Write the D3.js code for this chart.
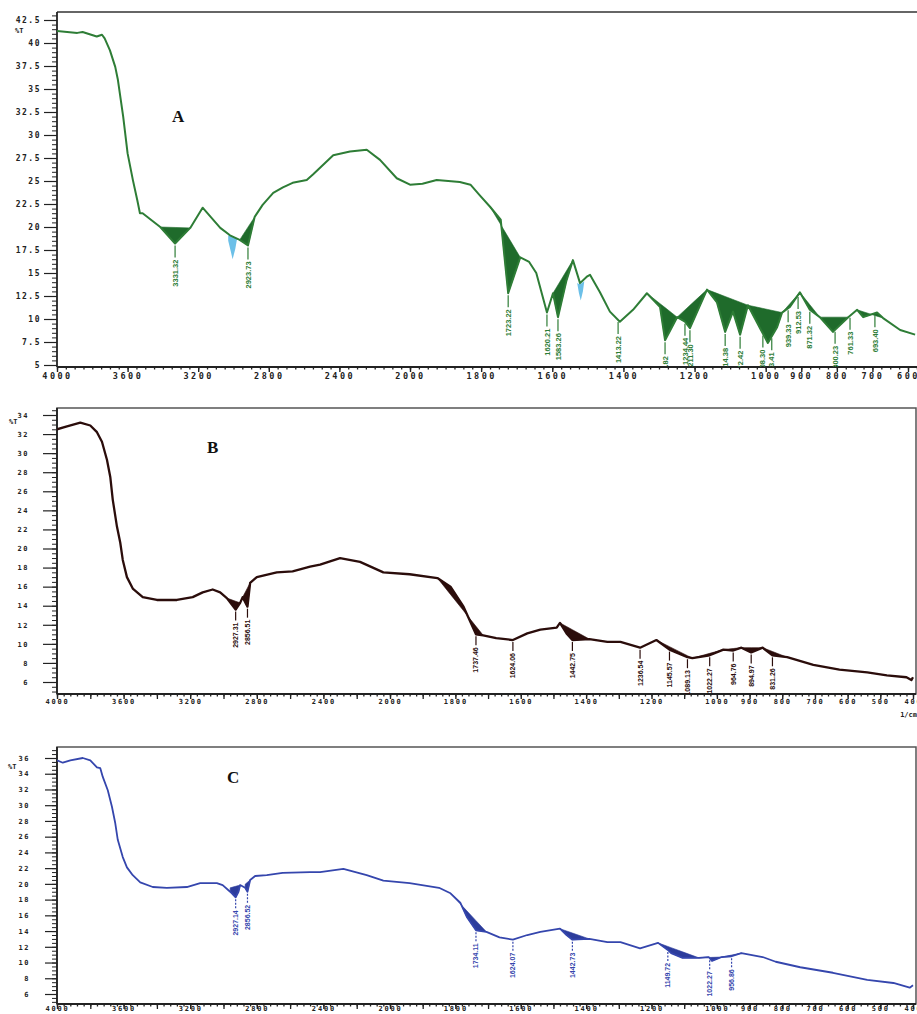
<!DOCTYPE html>
<html>
<head>
<meta charset="utf-8">
<script src="https://cdn.jsdelivr.net/npm/d3@7"></script>
<style>
  body { margin: 0; background: #fff; }
  svg { display: block; }
</style>
</head>
<body>
<svg id="ftir" width="917" height="1014"></svg>
<script>
// ---- spectrum A (wavenumber cm-1, %T) ----
var wnA = [4000,3885,3855,3775,3745,3730,3700,3670,3655,3625,3600,3570,3545,3530,3515,3415,3331,3245,3175,3075,
  3020,2965,2918,2880,2835,2775,2720,2665,2585,2550,2435,2340,2245,2170,2075,2000,1965,1925,1860,1830,
  1805,1775,1745,1724,1690,1665,1645,1615,1598,1584,1560,1542,1522,1503,1494,1466,1438,1410,1373,1334,
  1297,1283,1249,1227,1213,1165,1137,1114,1092,1072,1050,1016,994,968,954,932,904,876,848,811,
  768,743,726,687,670,622,580];
var tA = [41.3,41.1,41.2,40.7,40.9,40.5,39.2,37.4,36.0,32.0,28.0,25.1,22.9,21.5,21.5,20.0,18.2,19.9,22.1,19.9,
  19.1,18.6,18.0,21.1,22.4,23.7,24.3,24.8,25.1,25.7,27.8,28.2,28.4,27.3,25.3,24.6,24.7,25.1,24.9,24.6,
  23.5,22.2,20.8,12.8,16.7,16.2,15.0,10.7,12.8,10.2,14.2,16.4,13.9,14.6,14.8,12.9,10.8,9.7,11.0,12.8,
  11.3,7.7,10.2,9.7,9.0,13.2,11.8,8.6,10.8,8.3,11.5,9.0,7.4,9.1,10.7,11.3,12.9,11.0,10.2,8.6,
  10.2,11.0,10.2,10.7,10.1,8.8,8.3];
var fillsA = [[3415,3245],[2965,2880],[1775,1690],[1598,1542],[1334,1249],[1249,1165],[1165,1050],
  [1050,954],[954,904],[904,848],[848,768],[743,670]];
var peaksA = [[3331,"3331.32"],[2918,"2923.73"],[1724,"1723.22"],[1615,"1620.21"],[1584,"1583.26"],
  [1415,"1413.22"],[1283,"1276.82"],[1227,"1234.44"],[1213,"1211.30"],[1114,"1114.38"],[1072,"1072.42"],
  [1008,"1008.30"],[983,"983.41"],[937,"939.33"],[909,"912.53"],[876,"871.32"],[805,"800.23"],
  [763,"761.33"],[693,"693.40"]];
var blue1W = [3030,3015,3005,2990,2980], blue1Top = [19.1,19.0,18.9,18.8,18.7], blue1Bot = [18.5,17.3,16.5,17.6,18.7];
var blue2W = [1530,1525,1520,1514,1510], blue2Top = [13.9,13.8,13.8,14.0,14.1], blue2Bot = [13.9,12.8,12.0,13.0,14.1];
var xTicksA = [4000,3600,3200,2800,2400,2000,1800,1600,1400,1200,1000,900,800,700,600];
var yTicksA = [42.5,40,37.5,35,32.5,30,27.5,25,22.5,20,17.5,15,12.5,10,7.5,5];

// ---- spectrum B ----
var wnB = [4000,3940,3860,3800,3760,3730,3700,3680,3665,3640,3620,3605,3580,3545,3485,3400,3280,3185,3125,3065,
  3020,2980,2927,2900,2885,2856,2840,2800,2680,2585,2480,2420,2300,2180,2040,1940,1855,1815,1775,1737,
  1715,1675,1624,1580,1540,1490,1480,1460,1442,1390,1335,1295,1235,1185,1145,1090,1075,1022,980,950,
  925,895,860,830,785,705,625,540,480,420,405,400];
var tB = [32.5,32.8,33.2,32.9,32.2,31.2,29.3,27.5,25.1,22.3,20.6,18.8,17.0,15.8,14.9,14.6,14.6,14.9,15.4,15.7,
  15.4,14.8,13.6,14.3,14.9,13.9,16.4,17.0,17.5,17.6,18.1,18.3,19.0,18.6,17.5,17.3,16.9,16.0,13.9,11.0,
  10.9,10.6,10.4,11.1,11.5,11.7,12.2,11.1,10.4,10.5,10.2,10.2,9.6,10.4,9.4,8.6,8.5,8.8,9.4,9.3,
  9.6,9.1,9.6,8.8,8.6,7.8,7.3,7.0,6.7,6.5,6.2,6.5];
var fillsB = [[2980,2900],[2885,2840],[1855,1715],[1480,1390],[1185,1075],[1075,980],[980,925],[925,860],[860,785]];
var peaksB = [[2927,"2927.31"],[2856,"2856.51"],[1737,"1737.46"],[1624,"1624.06"],[1442,"1442.75"],
  [1235,"1236.54"],[1145,"1145.57"],[1090,"1089.13"],[1022,"1022.27"],[950,"964.76"],[895,"894.97"],[830,"831.26"]];

// ---- spectrum C ----
var wnC = [4000,3965,3920,3845,3800,3760,3740,3725,3695,3670,3650,3635,3605,3580,3545,3500,3425,3340,3220,3140,
  3040,3005,2960,2927,2910,2900,2870,2856,2840,2810,2740,2645,2480,2420,2280,2140,2040,1940,1850,1815,
  1785,1765,1737,1705,1665,1624,1580,1540,1480,1460,1442,1390,1335,1295,1235,1180,1150,1140,1105,1055,
  1025,1015,985,955,925,860,820,745,645,540,460,410,400];
var tC = [35.7,35.4,35.7,36.0,35.7,34.8,34.7,33.6,31.9,29.8,27.7,25.6,23.4,22.1,21.1,20.2,19.6,19.5,19.6,20.1,
  20.1,19.85,19.0,18.3,19.0,19.85,19.5,19.0,20.5,21.0,21.1,21.4,21.5,21.5,21.9,21.1,20.4,20.1,19.5,18.8,
  17.6,15.8,14.1,13.9,13.2,12.9,13.5,13.9,14.3,13.5,12.9,13.0,12.6,12.6,11.8,12.5,11.6,11.2,10.6,10.6,
  10.7,10.2,10.7,10.8,11.2,10.7,10.1,9.4,8.7,7.8,7.4,6.8,7.1];
var fillsC = [[2980,2900],[2885,2840],[1815,1705],[1480,1390],[1180,1055],[1055,985],[985,925]];
var peaksC = [[2927,"2927.14"],[2856,"2856.52"],[1737,"1734.11"],[1624,"1624.07"],[1442,"1442.73"],
  [1150,"1149.72"],[1022,"1022.27"],[955,"956.86"]];

var xTicksBC = [4000,3600,3200,2800,2400,2000,1800,1600,1400,1200,1000,900,800,700,600,500,400];
var xMidBC = [3800,3400,3000,2600,2200,1900,1700,1500,1300,1100];
var yTicksB = [34,32,30,28,26,24,22,20,18,16,14,12,10,8,6];
var yTicksC = [36,34,32,30,28,26,24,22,20,18,16,14,12,10,8,6];

var svg = d3.select("#ftir");
var tickFont = "'DejaVu Sans Mono', monospace";

function drawPanel(p) {
  var x = d3.scaleLinear().domain(p.xDomain).range(p.xRange);
  var y = d3.scaleLinear().domain(p.yDomain).range(p.yRange);
  var pts = p.wn.map(function(w, i) { return [w, p.t[i]]; });
  var valAt = d3.scaleLinear().domain(p.wn).range(p.t);

  var g = svg.append("g");

  g.append("clipPath").attr("id", "clip" + p.id)
    .append("rect").attr("x", p.left).attr("y", p.top)
    .attr("width", p.right - p.left).attr("height", p.bottom - p.top);

  // frame
  if (p.boxed) {
    g.append("rect").attr("x", p.left).attr("y", p.top)
      .attr("width", p.right - p.left).attr("height", p.bottom - p.top)
      .attr("fill", "none").attr("stroke", "#555").attr("stroke-width", 1.5);
  } else {
    g.append("line").attr("x1", p.left).attr("x2", p.right).attr("y1", p.top).attr("y2", p.top)
      .attr("stroke", "#666").attr("stroke-width", 2);
  }

  // y axis
  var yMinor = d3.range(p.yDomain[0] - 1, p.yDomain[1] + 1.01, p.yMinorStep);
  g.append("g").attr("transform", "translate(" + p.left + ",0)")
    .call(d3.axisLeft(y).tickValues(yMinor.filter(function(v) { return y(v) > p.top && y(v) <= p.bottom; }))
      .tickSize(5).tickSizeOuter(0).tickFormat(""))
    .call(function(a) { a.select(".domain").remove(); a.selectAll("line").attr("stroke", "#222"); });
  var yAx = g.append("g").attr("transform", "translate(" + p.left + ",0)")
    .call(d3.axisLeft(y).tickValues(p.yTicks).tickSize(p.yTickLen).tickSizeOuter(0).tickPadding(p.yPad)
      .tickFormat(function(d) { return String(d); }));
  yAx.select(".domain").remove();
  yAx.selectAll("line").attr("stroke", "#222").attr("stroke-width", 1.2);
  yAx.selectAll("text").attr("font-family", tickFont).attr("font-weight", "bold")
    .attr("font-size", p.yFont).attr("letter-spacing", p.yLs).attr("fill", "#222");
  g.append("line").attr("x1", p.left).attr("x2", p.left).attr("y1", p.top).attr("y2", p.bottom)
    .attr("stroke", "#222").attr("stroke-width", 1.8);

  // x axis
  var xMinor = d3.range(p.xDomain[0], p.xDomain[1] - 1, -p.xMinorHi)
    .concat(d3.range(p.xDomain[1], p.xDomain[2] - 30, -p.xMinorLo));
  g.append("g").attr("transform", "translate(0," + p.bottom + ")")
    .call(d3.axisBottom(x).tickValues(xMinor).tickSize(2.5).tickSizeOuter(0).tickFormat(""))
    .call(function(a) { a.select(".domain").remove(); a.selectAll("line").attr("stroke", "#222").attr("stroke-width", 1.3); });
  if (p.xMid) {
    g.append("g").attr("transform", "translate(0," + p.bottom + ")")
      .call(d3.axisBottom(x).tickValues(p.xMid).tickSize(5).tickSizeOuter(0).tickFormat(""))
      .call(function(a) { a.select(".domain").remove(); a.selectAll("line").attr("stroke", "#222").attr("stroke-width", 1.3); });
  }
  var xAx = g.append("g").attr("transform", "translate(0," + p.bottom + ")")
    .call(d3.axisBottom(x).tickValues(p.xTicks).tickSize(5).tickSizeOuter(0)
      .tickFormat(function(d) { return String(d); }));
  xAx.select(".domain").remove();
  xAx.selectAll("line").attr("stroke", "#222").attr("stroke-width", 1.4);
  xAx.selectAll("text").attr("y", p.xLabelY).attr("font-family", tickFont).attr("font-weight", "bold")
    .attr("font-size", p.xFont).attr("letter-spacing", p.xLs).attr("fill", "#222");
  g.append("line").attr("x1", p.left).attr("x2", p.right).attr("y1", p.bottom).attr("y2", p.bottom)
    .attr("stroke", "#222").attr("stroke-width", 1.8);

  var plot = g.append("g").attr("clip-path", "url(#clip" + p.id + ")");

  // shaded peak areas between a straight baseline and the curve
  p.fills.forEach(function(f) {
    var seg = pts.filter(function(d) { return d[0] <= f[0] && d[0] >= f[1]; });
    var chord = d3.scaleLinear().domain(f).range([valAt(f[0]), valAt(f[1])]);
    plot.append("path").datum(seg)
      .attr("d", d3.area().x(function(d) { return x(d[0]); })
        .y0(function(d) { return y(chord(d[0])); })
        .y1(function(d) { return y(d[1]); }))
      .attr("fill", p.fillColor).attr("stroke", p.fillColor).attr("stroke-width", 0.6);
  });

  (p.bands || []).forEach(function(b) {
    var rows = b.w.map(function(w, i) { return [w, b.top[i], b.bot[i]]; });
    plot.append("path").datum(rows)
      .attr("d", d3.area().x(function(d) { return x(d[0]); })
        .y0(function(d) { return y(d[1]); }).y1(function(d) { return y(d[2]); }))
      .attr("fill", b.color);
  });

  plot.append("path").datum(pts)
    .attr("d", d3.line().x(function(d) { return x(d[0]); }).y(function(d) { return y(d[1]); }))
    .attr("fill", "none").attr("stroke", p.color).attr("stroke-width", p.lineWidth)
    .attr("stroke-linejoin", "round");

  // peak labels
  var lab = plot.selectAll(".pk").data(p.peaks).enter().append("g")
    .attr("transform", function(d) { return "translate(" + x(d[0]) + "," + (y(valAt(d[0])) + 2) + ")"; });
  lab.append("line").attr("y1", 0).attr("y2", p.lineLen)
    .attr("stroke", p.color).attr("stroke-width", 1.2)
    .attr("stroke-dasharray", p.dashed ? "2,1.5" : null);
  lab.append("text")
    .attr("transform", "translate(0," + (p.lineLen + 2) + ") rotate(-90)")
    .attr("text-anchor", "end").attr("dy", "0.35em")
    .attr("font-family", "'Liberation Sans', sans-serif")
    .attr("font-weight", "bold").attr("font-size", p.peakFont).attr("fill", p.color)
    .text(function(d) { return d[1]; });

  // panel letter and %T
  svg.append("text").attr("x", p.letterX).attr("y", p.letterY)
    .attr("font-family", "'Liberation Serif', 'Times New Roman', serif").attr("font-weight", "bold")
    .attr("font-size", p.letterSize).attr("fill", "#111").text(p.letter);
  svg.append("text").attr("x", p.pctX).attr("y", p.pctY)
    .attr("font-family", tickFont).attr("font-weight", "bold").attr("font-size", 7)
    .attr("fill", "#222").text("%T");
}

drawPanel({
  id: "A", wn: wnA, t: tA, fills: fillsA, peaks: peaksA,
  bands: [{ w: blue1W, top: blue1Top, bot: blue1Bot, color: "#6cc0e8" },
          { w: blue2W, top: blue2Top, bot: blue2Bot, color: "#6cc0e8" }],
  xDomain: [4000, 2000, 600], xRange: [57, 410, 908],
  yDomain: [5, 42.5], yRange: [365, 20],
  left: 57, right: 917, top: 12, bottom: 367, boxed: false,
  xTicks: xTicksA, xMinorHi: 50, xMinorLo: 25, xLabelY: 6, xFont: 8.5, xLs: 2.5,
  yTicks: yTicksA, yMinorStep: 0.5, yTickLen: 13, yPad: 3, yFont: 8, yLs: 1.5,
  color: "#2e7d36", fillColor: "#1f6b2b", lineWidth: 2, lineLen: 12, peakFont: 7.5, dashed: false,
  letter: "A", letterX: 172, letterY: 122, letterSize: 17, pctX: 15, pctY: 33
});

drawPanel({
  id: "B", wn: wnB, t: tB, fills: fillsB, peaks: peaksB,
  xDomain: [4000, 2000, 400], xRange: [57, 390, 913],
  yDomain: [6, 34], yRange: [682, 415],
  left: 57, right: 916, top: 408, bottom: 694, boxed: true,
  xTicks: xTicksBC, xMid: xMidBC, xMinorHi: 40, xMinorLo: 20, xLabelY: 5, xFont: 7, xLs: 1.8,
  yTicks: yTicksB, yMinorStep: 0.5, yTickLen: 14, yPad: 14, yFont: 7, yLs: 1.5,
  color: "#2b0d0b", fillColor: "#2b0d0b", lineWidth: 2.3, lineLen: 9, peakFont: 7, dashed: false,
  letter: "B", letterX: 207, letterY: 453, letterSize: 17, pctX: 9, pctY: 424
});

drawPanel({
  id: "C", wn: wnC, t: tC, fills: fillsC, peaks: peaksC,
  xDomain: [4000, 2000, 400], xRange: [57, 390, 913],
  yDomain: [6, 36], yRange: [994, 758],
  left: 57, right: 916, top: 747, bottom: 1004, boxed: true,
  xTicks: xTicksBC, xMid: xMidBC, xMinorHi: 40, xMinorLo: 20, xLabelY: 2.5, xFont: 7, xLs: 1.8,
  yTicks: yTicksC, yMinorStep: 0.5, yTickLen: 12, yPad: 15, yFont: 7, yLs: 1.5,
  color: "#3546ad", fillColor: "#2c3c9c", lineWidth: 1.8, lineLen: 9, peakFont: 7, dashed: true,
  letter: "C", letterX: 227, letterY: 783, letterSize: 17, pctX: 8, pctY: 769
});

// unit label under panel B
svg.append("text").attr("x", 917).attr("y", 717).attr("text-anchor", "end")
  .attr("font-family", tickFont).attr("font-weight", "bold").attr("font-size", 7)
  .attr("fill", "#222").text("1/cm");
</script>
</body>
</html>
